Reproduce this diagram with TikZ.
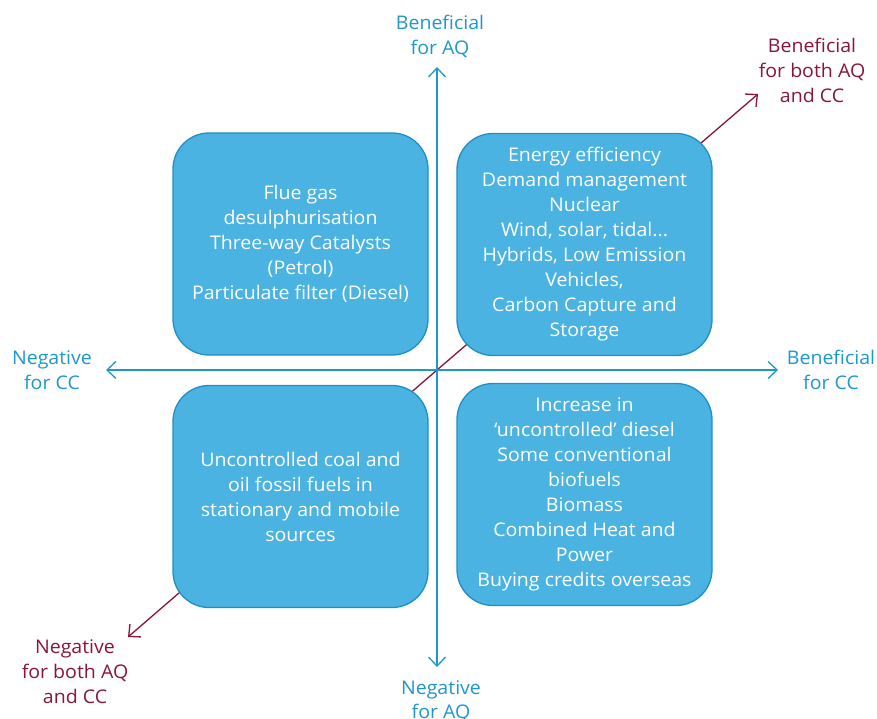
\documentclass[tikz,border=0pt]{standalone}
\usepackage{fontspec}
\setmainfont{Open Sans}[FakeStretch=1.04]
\usetikzlibrary{arrows.meta}
\definecolor{boxfill}{HTML}{4BB3E1}
\definecolor{boxline}{HTML}{1E8FC8}
\definecolor{axisblue}{HTML}{1E96D0}
\definecolor{wine}{HTML}{8A1538}
\begin{document}
\begin{tikzpicture}[x=1pt,y=-1pt,
  quad/.style={draw=boxline,line width=1.3pt,fill=boxfill,rounded corners=36pt,
    minimum width=255pt,minimum height=222pt,text=white,align=center,
    font=\fontsize{18.8}{25}\selectfont,inner sep=0pt},
  axlabel/.style={text=axisblue,align=center,font=\fontsize{18.8}{24.5}\selectfont,inner sep=0pt},
  bothlabel/.style={text=wine,align=center,font=\fontsize{18.8}{25}\selectfont,inner sep=0pt},
  axis/.style={draw=axisblue,line width=1.3pt,-{Straight Barb[length=9pt,width=17pt,line width=1.3pt]}},
  diag/.style={draw=wine,line width=1.3pt,-{Straight Barb[length=9pt,width=17pt,line width=1.3pt]}}]
\useasboundingbox (0,0) rectangle (877,719);
\coordinate (c) at (437,370);
\coordinate (up) at (437,67);
\coordinate (down) at (437,667);
\coordinate (left) at (106,370);
\coordinate (right) at (778,370);
\coordinate (ne) at (758,94);
\coordinate (sw) at (128,637);
\draw[diag] (c) -- (ne);
\draw[diag] (c) -- (sw);
\draw[axis] (c) -- (up);
\draw[axis] (c) -- (down);
\draw[axis] (c) -- (left);
\draw[axis] (c) -- (right);
\node[quad] (tl) at (300.5,244) {Flue gas\\desulphurisation\\Three-way Catalysts\\(Petrol)\\Particulate filter (Diesel)};
\node[quad] (tr) at (584.5,244.5) {Energy efficiency\\Demand management\\Nuclear\\Wind, solar, tidal...\\Hybrids, Low Emission\\Vehicles,\\Carbon Capture and\\Storage};
\node[quad] (bl) at (300.5,496.5) {Uncontrolled coal and\\oil fossil fuels in\\stationary and mobile\\sources};
\node[quad] (br) at (584.5,494.5) {Increase in\\‘uncontrolled’ diesel\\Some conventional\\biofuels\\Biomass\\Combined Heat and\\Power\\Buying credits overseas};
\node[axlabel] (ltop) at (440,36.5) {Beneficial\\for AQ};
\node[axlabel] (lbot) at (441,701) {Negative\\for AQ};
\node[axlabel] (lleft) at (52,370) {Negative\\for CC};
\node[axlabel] (lright) at (831,370) {Beneficial\\for CC};
\node[bothlabel] (lne) at (812,70.5) {Beneficial\\for both AQ\\and CC};
\node[bothlabel] (lsw) at (75,671.5) {Negative\\for both AQ\\and CC};
\end{tikzpicture}
\end{document}
